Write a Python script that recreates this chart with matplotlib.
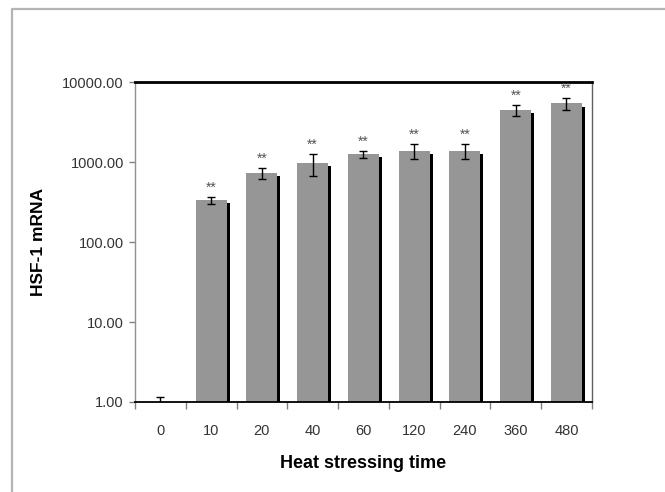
import matplotlib
matplotlib.use("Agg")
import matplotlib.pyplot as plt
import matplotlib.patheffects as pe
from matplotlib.lines import Line2D
from matplotlib.ticker import FixedLocator, FuncFormatter

# values
times = ['0', '10', '20', '40', '60', '120', '240', '360', '480']
mrna = [1.0, 335, 735, 980, 1260, 1390, 1390, 4470, 5410]
err = [0.16, 35, 120, 300, 120, 290, 290, 720, 900]
sig = ['', '**', '**', '**', '**', '**', '**', '**', '**']

plt.rcParams['font.family'] = ['Liberation Sans', 'DejaVu Sans']

fig = plt.figure(figsize=(6.65, 4.92), dpi=100)
ax = fig.add_axes([0.203, 0.183, 0.687, 0.650])

x = list(range(len(times)))
heights = [v - 1 for v in mrna]
bars = ax.bar(x, heights, bottom=1, width=0.61, color='#969696',
              edgecolor='none', zorder=2)
for b in bars:
    b.set_path_effects([pe.SimplePatchShadow(offset=(2.2, -2.2),
                                             shadow_rgbFace='black', alpha=1.0),
                        pe.Normal()])

ax.errorbar(x, mrna, yerr=err, fmt='none', ecolor='black', elinewidth=1,
            capsize=3, capthick=1, zorder=3)

for i, (v, e, s) in enumerate(zip(mrna, err, sig)):
    if s:
        ax.annotate(s, (i, v + e), xytext=(0, 1.5), textcoords='offset points',
                    ha='center', va='bottom', fontsize=10, color='#555555')

ax.set_yscale('log')
ax.set_ylim(1, 10000)
ax.set_xlim(-0.5, len(times) - 0.5)
ax.yaxis.set_major_locator(FixedLocator([1, 10, 100, 1000, 10000]))
ax.yaxis.set_minor_locator(FixedLocator([]))
ax.yaxis.set_major_formatter(FuncFormatter(lambda v, p: '%.2f' % v))

ax.set_xticks(x)
ax.set_xticklabels(times)
ax.set_xticks([i - 0.5 for i in range(len(times) + 1)], minor=True)
ax.tick_params(axis='x', which='major', length=0, pad=16, labelsize=10.5,
               labelcolor='#333333')
ax.tick_params(axis='x', which='minor', length=5, color='#808080', width=1)
ax.tick_params(axis='y', which='major', length=4, color='#808080', width=1,
               labelsize=10.5, labelcolor='#333333', pad=4)

ax.spines['left'].set_color('#909090')
ax.spines['left'].set_linewidth(1)
ax.spines['bottom'].set_color('black')
ax.spines['bottom'].set_linewidth(1.3)
ax.spines['top'].set_color('black')
ax.spines['top'].set_linewidth(2)
ax.spines['right'].set_color('#606060')
ax.spines['right'].set_linewidth(1)

ax.set_xlabel('Heat stressing time', fontsize=13, fontweight='bold', labelpad=12)
ax.set_ylabel('HSF-1 mRNA', fontsize=12.5, fontweight='bold', labelpad=12)

# outer gray frame of the original picture
fig.add_artist(Line2D([12 / 665, 12 / 665, 1.0], [0.0, 1 - 9 / 492, 1 - 9 / 492],
                      transform=fig.transFigure, color='#b4b4b4', lw=1.6))

fig.savefig('out.png', dpi=100)
